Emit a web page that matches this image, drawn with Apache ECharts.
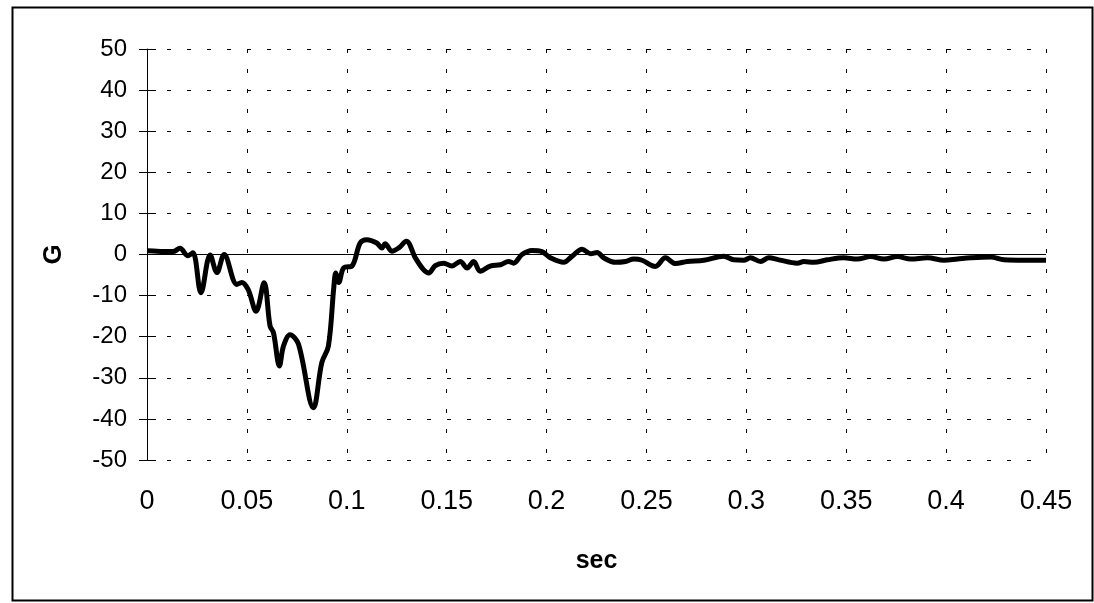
<!DOCTYPE html>
<html>
<head>
<meta charset="utf-8">
<title>G vs sec</title>
<script src="https://cdn.jsdelivr.net/npm/echarts@6/dist/echarts.min.js"></script>
<style>
  html, body { margin: 0; padding: 0; background: #ffffff; }
  #chart { width: 1094px; height: 603px; }
</style>
</head>
<body>
<div id="chart"></div>
<script>
// Acceleration trace: time in seconds, acceleration in G
const timeSec = [
  0.0000, 0.0050, 0.0100, 0.0130, 0.0165, 0.0205, 0.0230, 0.0270, 0.0316, 0.0350,
  0.0386, 0.0450, 0.0474, 0.0506, 0.0546, 0.0586, 0.0616, 0.0633, 0.0663, 0.0683,
  0.0716, 0.0758, 0.0833, 0.0875, 0.0908, 0.0935, 0.0945, 0.0960, 0.0985, 0.1026,
  0.1067, 0.1100, 0.1150, 0.1176, 0.1192, 0.1226, 0.1260, 0.1298, 0.1343, 0.1384,
  0.1410, 0.1443, 0.1485, 0.1526, 0.1568, 0.1602, 0.1635, 0.1668, 0.1718, 0.1769,
  0.1810, 0.1835, 0.1877, 0.1927, 0.1977, 0.2019, 0.2086, 0.2128, 0.2178, 0.2220,
  0.2253, 0.2286, 0.2345, 0.2395, 0.2437, 0.2478, 0.2545, 0.2595, 0.2645, 0.2704,
  0.2787, 0.2887, 0.2937, 0.2987, 0.3020, 0.3071, 0.3113, 0.3163, 0.3255, 0.3288,
  0.3338, 0.3405, 0.3488, 0.3555, 0.3622, 0.3689, 0.3756, 0.3823, 0.3906, 0.3990,
  0.4057, 0.4123, 0.4223, 0.4290, 0.4390, 0.4500
];
const gForce = [
  0.9, 0.8, 0.7, 0.7, 1.5, -0.3, 0.4, -9.3, -0.1, -4.4,
  0.0, -7.3, -6.8, -8.5, -13.8, -6.9, -17.4, -19.0, -27.1, -22.3,
  -19.5, -21.8, -37.3, -26.3, -22.3, -8.0, -4.5, -6.8, -3.2, -2.8,
  2.8, 3.6, 2.8, 1.6, 2.6, 0.8, 1.6, 3.2, -0.8, -3.7,
  -4.5, -2.7, -2.1, -2.8, -1.7, -3.3, -1.7, -4.1, -2.8, -2.5,
  -1.7, -2.1, 0.0, 1.0, 0.7, -0.8, -1.9, -0.4, 1.3, 0.2,
  0.5, -0.8, -1.9, -1.7, -1.1, -1.4, -2.9, -0.8, -2.2, -1.7,
  -1.4, -0.4, -1.3, -1.4, -0.8, -1.7, -0.8, -1.3, -2.1, -1.7,
  -1.9, -1.3, -0.8, -1.1, -0.5, -1.1, -0.5, -1.1, -0.8, -1.4,
  -1.1, -0.8, -0.6, -1.3, -1.4, -1.4
];

// Axis ranges
const xRange = { min: 0, max: 0.45, step: 0.05 };
const yRange = { min: -50, max: 50, step: 10 };
const xTitle = 'sec';
const yTitle = 'G';

const points = timeSec.map((t, i) => [t, gForce[i]]);

const fontFamily = '"Liberation Sans", Arial, sans-serif';
const gridDash = { color: '#000', width: 1, type: [4, 16] };

const chart = echarts.init(document.getElementById('chart'), null, { renderer: 'canvas' });

chart.setOption({
  backgroundColor: '#ffffff',
  animation: false,
  graphic: [{
    type: 'rect',
    left: 10, top: 5,
    shape: { width: 1080, height: 593 },
    style: { fill: 'none', stroke: '#000', lineWidth: 2 },
    silent: true
  }],
  grid: { left: 147, right: 48, top: 49, bottom: 143, containLabel: false },
  xAxis: {
    type: 'value',
    min: xRange.min, max: xRange.max, interval: xRange.step,
    name: xTitle,
    nameLocation: 'middle',
    nameGap: 89,
    nameTextStyle: { fontFamily, fontSize: 25, fontWeight: 'bold', color: '#000' },
    axisLine: { show: false },
    axisTick: { show: false },
    axisLabel: { fontFamily, fontSize: 27, color: '#000', margin: 28 },
    splitLine: { show: true, lineStyle: gridDash }
  },
  yAxis: [{
    type: 'value',
    min: yRange.min, max: yRange.max, interval: yRange.step,
    name: yTitle,
    nameLocation: 'middle',
    nameGap: 80,
    nameRotate: 90,
    nameTextStyle: { fontFamily, fontSize: 26, fontWeight: 'bold', color: '#000' },
    axisLine: { show: true, lineStyle: { color: '#000', width: 1 } },
    axisTick: { show: true, length: 8, lineStyle: { color: '#000', width: 1 } },
    axisLabel: { fontFamily, fontSize: 24, color: '#000', margin: 20 },
    splitLine: { show: true, lineStyle: gridDash }
  }, {
    type: 'value',
    position: 'left',
    min: yRange.min, max: yRange.max, interval: yRange.step,
    axisLine: { show: false },
    axisTick: { show: true, inside: true, length: 9, lineStyle: { color: '#000', width: 1 } },
    axisLabel: { show: false },
    splitLine: { show: false }
  }],
  series: [{
    type: 'line',
    data: points,
    yAxisIndex: 0,
    showSymbol: false,
    smooth: 0.35,
    lineStyle: { color: '#000', width: 5 },
    markLine: {
      silent: true,
      symbol: 'none',
      label: { show: false },
      lineStyle: { color: '#000', width: 1, type: 'solid' },
      data: [{ yAxis: 0 }],
      z: 1
    },
    z: 3
  }]
});
</script>
</body>
</html>
